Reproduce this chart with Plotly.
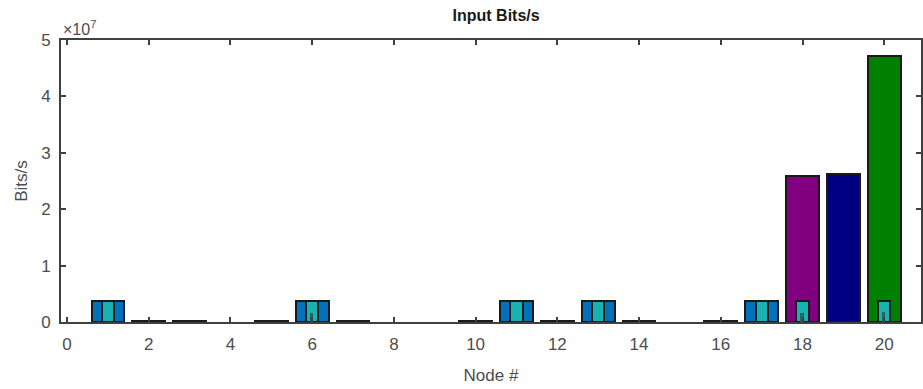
import plotly.graph_objects as go

nodes = list(range(1, 21))
total_bits = [3.7e6, 1.5e5, 1.5e5, None, 1.5e5, 3.7e6, 1.5e5, None, None, 1.5e5,
              3.7e6, 1.5e5, 3.7e6, 1.5e5, None, 1.5e5, 3.7e6, 2.59e7, 2.62e7, 4.71e7]
total_colors = ['#0072BD'] * 17 + ['#800080', '#000080', '#008000']
cyan_nodes = [1, 6, 11, 13, 17, 18, 20]
cyan_bits = [3.7e6, 3.7e6, 3.7e6, 3.7e6, 3.7e6, 3.7e6, 3.7e6]
inner_nodes = [6, 18, 20]
inner_bits = [1.5e6, 1.5e6, 1.6e6]

y_ticks = [0, 1e7, 2e7, 3e7, 4e7, 5e7]
y_tick_text = ['0', '1', '2', '3', '4', '5']
x_ticks = list(range(0, 21, 2))

edge = '#1a1a1a'
fig = go.Figure()
fig.add_trace(go.Bar(x=nodes, y=total_bits, width=0.8,
                     marker=dict(color=total_colors, line=dict(color=edge, width=2)),
                     showlegend=False))
fig.add_trace(go.Bar(x=cyan_nodes, y=cyan_bits, width=0.3,
                     marker=dict(color='#17B3B3', line=dict(color=edge, width=2)),
                     showlegend=False))
fig.add_trace(go.Bar(x=inner_nodes, y=inner_bits, width=0.06,
                     marker=dict(color='#127878', line=dict(color='#2a5a5a', width=1)),
                     showlegend=False))

tick_font = dict(family='Liberation Sans, Arial, sans-serif', size=17, color='#4d4d4d')
label_font = dict(family='Liberation Sans, Arial, sans-serif', size=17, color='#4d4d4d')
fig.update_layout(
    width=923, height=389, autosize=False,
    margin=dict(l=61, r=0, t=40, b=67),
    plot_bgcolor='white', paper_bgcolor='white',
    barmode='overlay', bargap=0,
    title=dict(text='<b>Input Bits/s</b>', x=0.5375, xanchor='center', y=0.96, yanchor='middle',
               font=dict(family='Liberation Sans, Arial, sans-serif', size=16, color='#1a1a1a')),
    xaxis=dict(range=[-0.147, 20.9], tickvals=x_ticks, ticks='inside', ticklen=5,
               tickwidth=1.5, tickcolor='#404040', ticklabelstandoff=6,
               showline=True, linecolor='#404040', linewidth=2, mirror='ticks',
               showgrid=False, zeroline=False, tickfont=tick_font,
               title=dict(text='Node #', font=label_font, standoff=16)),
    yaxis=dict(range=[0, 5e7], tickvals=y_ticks, ticktext=y_tick_text, ticks='inside',
               ticklen=5, tickwidth=1.5, tickcolor='#404040', ticklabelstandoff=5,
               showline=True, linecolor='#404040', linewidth=2, mirror='ticks',
               showgrid=False, zeroline=False, tickfont=tick_font,
               title=dict(text='Bits/s', font=label_font, standoff=9)),
    annotations=[dict(text='×10<sup>7</sup>', xref='paper', yref='paper', x=0.0, y=1.0,
                      xanchor='left', yanchor='bottom', showarrow=False,
                      font=dict(family='Liberation Sans, Arial, sans-serif', size=16, color='#4d4d4d'))],
)
fig.write_html('out.html')
